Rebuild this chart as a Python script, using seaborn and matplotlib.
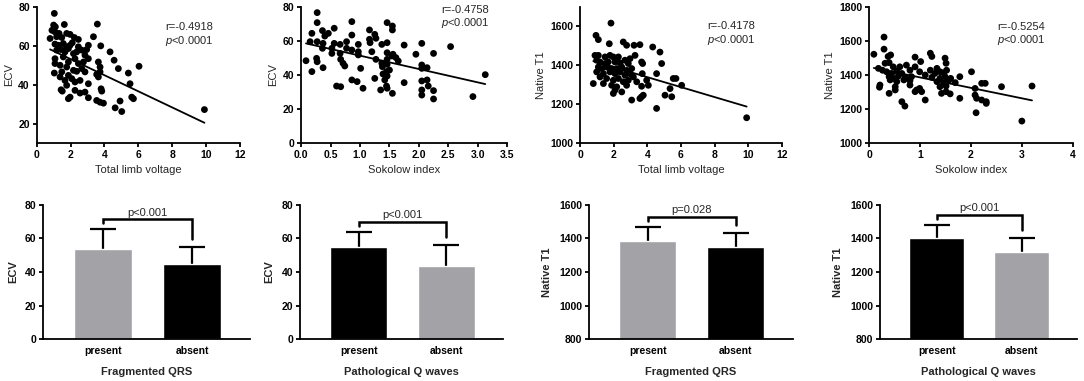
import numpy as np
import matplotlib
matplotlib.use("Agg")
import matplotlib.pyplot as plt
import seaborn as sns

# ---- scatter data ----
limb_ecv_x = [1.04, 1.0, 1.1, 1.63, 3.58, 0.9, 1.08, 1.32, 1.77, 1.97,
              0.79, 1.18, 1.48, 2.22, 2.46, 3.35,
              1.08, 1.28, 1.57, 1.77, 1.97, 2.1, 2.46, 2.66, 2.95, 3.05, 3.78,
              1.18, 1.44, 1.67, 1.87, 2.17, 2.36, 2.85, 3.05, 4.33,
              1.08, 1.57, 1.87, 2.26, 2.46, 2.76, 4.57, 3.64,
              1.08, 1.38, 1.77, 2.17, 2.66, 3.74, 4.82, 6.04,
              1.04, 1.48, 1.87, 2.36, 2.85, 3.54, 3.74, 5.41,
              1.38, 1.67, 2.07, 2.26, 2.56, 3.64,
              1.77, 3.05, 5.51,
              1.44, 1.51, 2.26, 2.56, 2.85, 3.8, 3.84,
              1.97, 1.87, 3.05, 5.61, 5.71,
              3.54, 3.74, 3.94, 4.92, 4.63, 5.02,
              9.9]
limb_ecv_y = [76.7, 70.7, 69.8, 71, 71.2, 68, 67.2, 66.4, 66.4, 65.9,
              63.8, 64.7, 64.3, 64.3, 63.3, 64.7,
              60.9, 60.3, 61.2, 59.5, 60.3, 61.6, 59.5, 57.8, 58.1, 60.3, 60,
              57.8, 58.1, 56.9, 58.6, 56, 56.9, 55.2, 53.4, 56.9,
              53.4, 54.3, 51.7, 53.4, 50.9, 51.7, 52.6, 51.7,
              50.9, 50, 49.1, 47.4, 48.3, 49.1, 48.3, 49.5,
              46, 46.6, 44.8, 46.9, 46.6, 45.3, 46.6, 46,
              44, 42.2, 43.1, 41.4, 42.2, 44,
              39.7, 40.5, 40.5,
              37.4, 36.7, 37.1, 35.7, 36.2, 37.9, 36.7,
              33.6, 32.8, 33.3, 33.6, 32.8,
              31.9, 31, 30.5, 31.6, 28.1, 26.2,
              27.2]

sok_ecv_x = [0.27, 0.27, 0.86, 1.46, 1.55, 1.55,
             0.18, 0.36, 0.46, 0.56, 0.40, 1.16, 1.25, 0.86,
             0.15, 0.27, 0.37, 0.56, 0.66, 0.77, 0.97, 1.16, 1.17, 1.27, 1.37, 1.46, 1.75, 2.05, 2.54,
             0.36, 0.52, 0.77, 0.86, 0.97, 1.2, 1.46, 1.56,
             0.52, 0.66, 0.97, 1.95, 2.25,
             0.08, 0.26, 0.27, 0.67, 1.27, 1.46, 1.61, 1.65, 1.54,
             0.71, 0.74, 1.01, 1.37, 1.38, 1.46, 2.05, 2.05, 2.14,
             0.18, 0.37, 1.45, 1.5, 1.39, 1.46, 1.25,
             0.86, 0.95, 1.75, 2.05, 2.14, 1.42,
             0.6, 0.67, 1.05, 1.45, 1.46, 1.35, 1.55, 2.05, 2.16, 2.25,
             2.05, 2.25, 2.92, 3.13]
sok_ecv_y = [76.7, 70.8, 71.4, 70.8, 68.8, 66.5,
             64.5, 66.1, 64.5, 67.5, 62.9, 66.5, 63.9, 63.5,
             59.6, 59.6, 58.6, 58.6, 58, 59.6, 58, 61, 59, 61.6, 58, 59, 57.6, 58.6, 56.7,
             55.7, 55.7, 55.7, 54.7, 53.7, 53.7, 53.1, 52.2,
             52.7, 52.7, 51.8, 52.2, 52.7,
             48.4, 49.8, 47.8, 49.2, 49.2, 49.2, 50.2, 48.2, 51.2,
             46.9, 45.3, 43.9, 46.9, 44.9, 46.3, 45.9, 43.9, 44.3,
             42, 44.3, 42, 42.9, 40.6, 39.4, 38,
             37.1, 36.1, 35.5, 36.5, 37.1, 37.1,
             33.5, 33.1, 32.2, 33.5, 32.2, 31.2, 29.2, 31.2, 33.5, 30.8,
             28.2, 25.9, 27.3, 40.2]

limb_t1_x = [1.84,
             0.95, 1.09, 1.74, 2.57, 2.77, 3.21, 3.56, 4.32, 4.75,
             0.89, 1.09, 1.49, 1.78, 1.98, 2.28, 2.67, 2.97, 3.27,
             0.99, 1.19, 1.49, 1.68, 2.08, 2.38, 2.87, 3.66, 3.72,
             1.09, 1.29, 1.58, 1.88, 2.18, 2.48, 2.77, 3.07, 4.85,
             0.99, 1.39, 1.78, 2.08, 2.38, 2.67, 2.97, 3.17, 3.7, 4.55,
             1.19, 1.58, 1.98, 2.28, 2.57, 2.87, 3.37, 3.96,
             0.79, 1.39, 1.88, 2.18, 2.77, 3.66, 4.06, 5.54, 5.7, 6.04,
             2.08, 2.48, 1.98, 5.35, 5.45, 5.05, 3.66, 3.56, 3.76, 3.07,
             4.55, 9.9]
limb_t1_y = [1617,
             1554, 1532, 1511, 1520, 1503, 1503, 1506, 1494, 1468,
             1451, 1451, 1443, 1451, 1443, 1443, 1426, 1434, 1451,
             1426, 1417, 1409, 1417, 1417, 1412, 1409, 1417, 1409,
             1391, 1383, 1391, 1383, 1383, 1391, 1374, 1383, 1409,
             1366, 1357, 1366, 1357, 1366, 1349, 1357, 1340, 1357, 1357,
             1340, 1332, 1323, 1332, 1315, 1323, 1315, 1323,
             1306, 1306, 1297, 1289, 1297, 1292, 1297, 1332, 1332, 1297,
             1272, 1263, 1255, 1280, 1238, 1246, 1238, 1229, 1246, 1221,
             1178, 1130]

sok_t1_x = [0.29,
            0.09, 0.29, 0.37, 0.42, 0.9, 1.01, 1.2, 1.23, 1.49, 1.51,
            0.18, 0.31, 0.39, 0.47, 0.6, 0.73, 0.9, 1.2, 1.33, 1.39, 2.01,
            0.26, 0.34, 0.44, 0.54, 0.64, 0.8, 0.99, 1.29, 1.46, 1.52,
            0.39, 0.47, 0.57, 0.71, 0.83, 1.1, 1.23, 1.39, 1.49, 1.6, 1.78,
            0.41, 0.54, 0.68, 0.8, 1.33, 1.46, 1.56, 1.69, 2.28,
            0.21, 0.2, 0.51, 0.8, 0.93, 0.99, 1.39, 1.51, 2.08, 2.21, 2.6, 3.2,
            0.39, 0.51, 0.9, 1.03, 1.42, 1.51, 1.59, 1.78, 2.08, 2.11, 2.21, 2.3, 2.3,
            1.1, 0.64, 0.7, 2.1, 3.0]
sok_t1_y = [1623,
            1522, 1552, 1509, 1518, 1505, 1479, 1528, 1509, 1499, 1469,
            1439, 1469, 1473, 1448, 1448, 1458, 1448, 1428, 1439, 1419, 1419,
            1428, 1419, 1409, 1424, 1409, 1428, 1419, 1409, 1413, 1428,
            1390, 1380, 1394, 1386, 1390, 1400, 1386, 1380, 1390, 1380, 1390,
            1371, 1361, 1371, 1367, 1361, 1355, 1367, 1355, 1351,
            1341, 1328, 1331, 1341, 1312, 1321, 1331, 1335, 1321, 1351, 1331, 1335,
            1292, 1312, 1302, 1302, 1292, 1302, 1289, 1263, 1282, 1263, 1253, 1243, 1233,
            1253, 1243, 1217, 1178, 1129]

r_values = ["r=-0.4918", "r=-0.4758", "r=-0.4178", "r=-0.5254"]

# ---- bar data ----
groups = ["present", "absent"]
fqrs_ecv_mean = [53.5, 44.8]
fqrs_ecv_sd = [12.0, 10.4]
pathq_ecv_mean = [54.8, 43.7]
pathq_ecv_sd = [9.3, 12.3]
fqrs_t1_mean = [1385, 1348]
fqrs_t1_sd = [85, 87]
pathq_t1_mean = [1405, 1322]
pathq_t1_sd = [75, 79]
p_labels = ["p<0.001", "p<0.001", "p=0.028", "p<0.001"]

sns.set_style("ticks")
plt.rcParams["font.family"] = ["Liberation Sans", "DejaVu Sans"]
plt.rcParams["font.weight"] = "bold"   # tick labels are bold; plain texts set explicitly
plt.rcParams["mathtext.fontset"] = "custom"
plt.rcParams["mathtext.it"] = "Liberation Sans:style=italic:weight=normal"
plt.rcParams["mathtext.rm"] = "Liberation Sans:weight=normal"
plt.rcParams["mathtext.default"] = "rm"

GREY = "#a2a2a7"
W, H = 1084, 381
fig = plt.figure(figsize=(W / 100, H / 100), dpi=100)


def frame(left, right, top, bottom):
    return fig.add_axes([left / W, 1 - bottom / H, (right - left) / W, (bottom - top) / H])


def style(ax):
    sns.despine(ax=ax)
    for s in ("left", "bottom"):
        ax.spines[s].set_linewidth(1.3)
        ax.spines[s].set_color("black")
    ax.tick_params(width=1.3, length=3, labelsize=7.5, colors="black", pad=2)


# ---- top row: scatter with regression ----
scatters = [
    (limb_ecv_x, limb_ecv_y, (36.7, 240), (0, 12), np.arange(0, 13, 2), (10, 80), np.arange(20, 81, 20),
     "Total limb voltage", "ECV", (0.63, 0.85)),
    (sok_ecv_x, sok_ecv_y, (301.3, 507), (0, 3.5), np.arange(0, 3.6, 0.5), (0, 80), np.arange(0, 81, 20),
     "Sokolow index", "ECV", (0.68, 0.98)),
    (limb_t1_x, limb_t1_y, (580, 782), (0, 12), np.arange(0, 13, 2), (1000, 1700), np.arange(1000, 1601, 200),
     "Total limb voltage", "Native T1", (0.63, 0.86)),
    (sok_t1_x, sok_t1_y, (869.3, 1072.7), (0, 4), np.arange(0, 5, 1), (1000, 1800), np.arange(1000, 1801, 200),
     "Sokolow index", "Native T1", (0.63, 0.855)),
]

for i, (x, y, (l, r), xlim, xt, ylim, yt, xlab, ylab, (tx, ty)) in enumerate(scatters):
    ax = frame(l, r, 7, 143)
    sns.scatterplot(x=x, y=y, ax=ax, color="black", s=24, edgecolor="none")
    sns.regplot(x=np.array(x), y=np.array(y), ax=ax, scatter=False, ci=None, truncate=True,
                line_kws={"color": "black", "lw": 1.3})
    ax.set_xlim(*xlim)
    ax.set_ylim(*ylim)
    ax.set_xticks(xt)
    ax.set_yticks(yt)
    if i == 1:
        ax.set_xticklabels([f"{v:.1f}" for v in xt])
    ax.set_xlabel(xlab, fontsize=8, fontweight="normal", labelpad=4)
    ax.set_ylabel(ylab, fontsize=8, fontweight="normal", labelpad=3)
    style(ax)
    ax.text(tx, ty, r_values[i], transform=ax.transAxes, fontsize=8, fontweight="normal",
            va="center", ha="left")
    ax.text(tx, ty - 0.1, r"$\mathit{p}$<0.0001", transform=ax.transAxes, fontsize=8,
            fontweight="normal", va="center", ha="left")

# ---- bottom row: bars with one-sided SD and significance bracket ----
bars = [
    (fqrs_ecv_mean, fqrs_ecv_sd, [GREY, "black"], (43.3, 250), (0, 80), np.arange(0, 81, 20),
     "Fragmented QRS", "ECV"),
    (pathq_ecv_mean, pathq_ecv_sd, ["black", GREY], (300, 503), (0, 80), np.arange(0, 81, 20),
     "Pathological Q waves", "ECV"),
    (fqrs_t1_mean, fqrs_t1_sd, [GREY, "black"], (589, 793), (800, 1600), np.arange(800, 1601, 200),
     "Fragmented QRS", "Native T1"),
    (pathq_t1_mean, pathq_t1_sd, ["black", GREY], (880, 1077), (800, 1600), np.arange(800, 1601, 200),
     "Pathological Q waves", "Native T1"),
]

for i, (mean, sd, cols, (l, r), ylim, yt, xlab, ylab) in enumerate(bars):
    ax = frame(l, r, 205, 339)
    mean = np.array(mean, dtype=float)
    sd = np.array(sd, dtype=float)
    top = mean + sd
    pos = np.arange(len(groups))
    ax.vlines(pos, mean, top, color="black", lw=1.6, zorder=0.5)
    ax.hlines(top, pos - 0.15, pos + 0.15, color="black", lw=1.6, zorder=0.5)
    sns.barplot(x=groups, y=mean, hue=groups, palette=cols, width=0.65, saturation=1,
                legend=False, ax=ax, zorder=1)
    ax.set_xlim(-0.67, 1.65)
    ax.set_ylim(*ylim)
    ax.set_yticks(yt)
    span = ylim[1] - ylim[0]
    level = top.max() + 0.075 * span
    ax.plot([0, 0, 1, 1], [level - 0.03 * span, level, level, top[1] + 0.06 * span],
            color="black", lw=1.8, solid_joinstyle="miter", clip_on=False)
    ax.text(0.5, level + 0.012 * span, p_labels[i], ha="center", va="bottom", fontsize=8,
            fontweight="normal")
    style(ax)
    ax.tick_params(axis="x", length=0, pad=5)
    ax.set_xlabel(xlab, fontsize=8, fontweight="bold", labelpad=8)
    ax.set_ylabel(ylab, fontsize=8, fontweight="bold", labelpad=5)

fig.savefig("out.png", dpi=100)
